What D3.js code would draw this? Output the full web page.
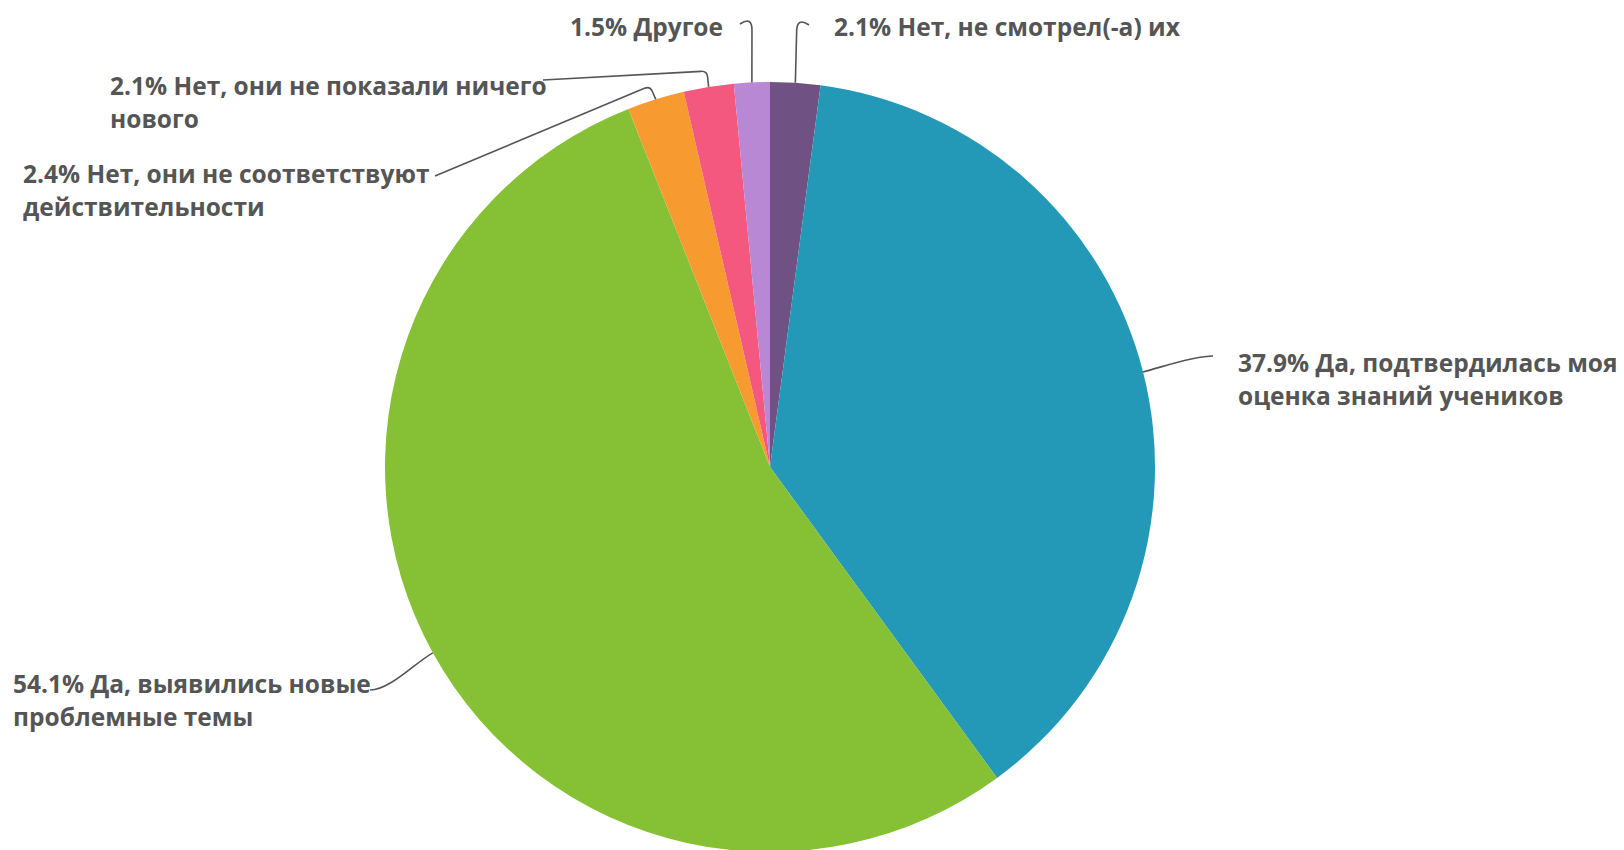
<!DOCTYPE html>
<html lang="ru">
  <head>
    <meta charset="utf-8">
    <title>Pie with leader labels</title>
    <style>
      body { margin: 0; background: #fff; }
      .label { font-family: "Open Sans", Lato, sans-serif; font-weight: bold; font-size: 24.5px; fill: #555; }
      .leader { fill: none; stroke: #555; stroke-width: 1.6px; }
    </style>
  </head>
  <body>
    <div id="chart-area"></div>
    <script src="https://cdn.jsdelivr.net/npm/d3@7"></script>
    <script>
      // data, clockwise from 12 o'clock
      const categories = [
        'Нет, не смотрел(-а) их',
        'Да, подтвердилась моя оценка знаний учеников',
        'Да, выявились новые проблемные темы',
        'Нет, они не соответствуют действительности',
        'Нет, они не показали ничего нового',
        'Другое'
      ];
      const values = [2.1, 37.9, 54.1, 2.4, 2.1, 1.5];
      const colors = ['#6f5283', '#2399b7', '#86c034', '#f79a2f', '#f4587e', '#b988d4'];

      const svg_width = 1624;
      const svg_height = 850;
      const cx = 770, cy = 467, radius = 385;
      const line_height = 33;
      const wrap_width = 445;

      // label layout: text position + leader elbow/end (elbow null = plain curve)
      const label_layout = [
        {x: 834,  y: 36,  anchor: 'start', elbow: [797, 17], end: [809, 25], r: 14},
        {x: 1238, y: 372, anchor: 'start', elbow: null,      end: [1213, 356]},
        {x: 13,   y: 693, anchor: 'start', elbow: null,      end: [370, 690]},
        {x: 23,   y: 183, anchor: 'start', elbow: [650, 86], end: [435, 176], r: 6},
        {x: 110,  y: 95,  anchor: 'start', elbow: [707, 71], end: [543, 80],  r: 6},
        {x: 723,  y: 36,  anchor: 'end',   elbow: [752, 16], end: [740, 24],  r: 14}
      ];

      const svg = d3.select('#chart-area')
        .append('svg')
        .attr('width', svg_width)
        .attr('height', svg_height);

      const pie = d3.pie().sort(null).value(d => d);
      const arcs = pie(values);
      const arc = d3.arc().innerRadius(0).outerRadius(radius);

      const g = svg.append('g').attr('transform', `translate(${cx},${cy})`);
      g.selectAll('path')
        .data(arcs)
        .enter()
        .append('path')
        .attr('d', arc)
        .attr('fill', (d, i) => colors[i]);

      // point on the rim at the middle of a slice
      const rim = (d) => {
        const a = (d.startAngle + d.endAngle) / 2;
        return [cx + radius * Math.sin(a), cy - radius * Math.cos(a), a];
      };

      const leader_path = (d, i) => {
        const L = label_layout[i];
        const [sx, sy, a] = rim(d);
        const p = d3.path();
        p.moveTo(sx, sy);
        if (L.elbow) {
          const [ex, ey] = L.elbow;
          const [tx, ty] = L.end;
          const l1 = Math.hypot(ex - sx, ey - sy);
          const l2 = Math.hypot(tx - ex, ty - ey);
          const r = Math.min(L.r, l1, l2);
          p.lineTo(ex - (ex - sx) / l1 * r, ey - (ey - sy) / l1 * r);
          p.quadraticCurveTo(ex, ey, ex + (tx - ex) / l2 * r, ey + (ty - ey) / l2 * r);
          p.lineTo(tx, ty);
        } else {
          const [tx, ty] = L.end;
          const dir = [Math.sin(a), -Math.cos(a)];
          const side = tx < sx ? 1 : -1;
          p.bezierCurveTo(sx + dir[0] * 20, sy + dir[1] * 20, tx + side * 20, ty, tx, ty);
        }
        return p.toString();
      };

      svg.selectAll('.leader')
        .data(arcs)
        .enter()
        .append('path')
        .attr('class', 'leader')
        .attr('d', leader_path);

      // labels, wrapped on words
      const labels = svg.selectAll('.label')
        .data(arcs)
        .enter()
        .append('text')
        .attr('class', 'label')
        .attr('text-anchor', (d, i) => label_layout[i].anchor)
        .attr('x', (d, i) => label_layout[i].x)
        .attr('y', (d, i) => label_layout[i].y);

      labels.each(function(d, i) {
        const text = d3.select(this);
        const words = (d3.format('.1f')(values[i]) + '% ' + categories[i]).split(' ');
        let line = [];
        let tspan = text.append('tspan').attr('x', label_layout[i].x).attr('dy', 0);
        words.forEach(w => {
          line.push(w);
          tspan.text(line.join(' '));
          if (tspan.node().getComputedTextLength() > wrap_width && line.length > 1) {
            line.pop();
            tspan.text(line.join(' '));
            line = [w];
            tspan = text.append('tspan')
              .attr('x', label_layout[i].x)
              .attr('dy', line_height)
              .text(w);
          }
        });
      });
    </script>
  </body>
</html>
